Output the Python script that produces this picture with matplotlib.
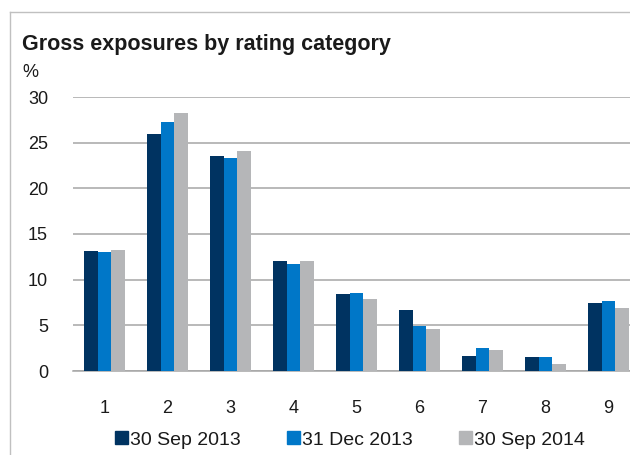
import matplotlib
matplotlib.use("Agg")
import matplotlib.pyplot as plt
import matplotlib.patches as mpatches
from matplotlib.lines import Line2D
import numpy as np

# ---------------------------------------------------------------------------
# Data
# ---------------------------------------------------------------------------
categories = ["1", "2", "3", "4", "5", "6", "7", "8", "9"]
series_names = ["30 Sep 2013", "31 Dec 2013", "30 Sep 2014"]
sep_2013 = [13.1, 26.0, 23.5, 12.0, 8.4, 6.7, 1.6, 1.5, 7.4]
dec_2013 = [13.0, 27.3, 23.3, 11.7, 8.5, 4.9, 2.5, 1.5, 7.7]
sep_2014 = [13.3, 28.3, 24.1, 12.0, 7.9, 4.6, 2.3, 0.8, 6.9]
y_ticks = [0, 5, 10, 15, 20, 25, 30]

# ---------------------------------------------------------------------------
# Theme
# ---------------------------------------------------------------------------
NAVY = "#003361"
BLUE = "#0077c8"
GREY = "#b5b6b8"
GRID = "#a6a6a6"
FRAME = "#c0c0c0"
TEXT = "#1a1a1a"

plt.rcParams["font.family"] = ["Liberation Sans", "DejaVu Sans"]

W, H = 630, 455
fig = plt.figure(figsize=(W / 100, H / 100), dpi=100)
fig.patch.set_facecolor("white")

# outer frame (left + top edges visible, rest cropped)
fig.add_artist(Line2D([10 / W, 10 / W], [0, 1 - 12 / H], color=FRAME, lw=1.0))
fig.add_artist(Line2D([10 / W, 1], [1 - 12 / H, 1 - 12 / H], color=FRAME, lw=1.0))

# axes extends a little past the right edge, as in the cropped source
ax_left, ax_right = 73, 640
ax_bottom, ax_top = 371, 97
ax = fig.add_axes([ax_left / W, 1 - ax_bottom / H,
                   (ax_right - ax_left) / W, (ax_bottom - ax_top) / H])
ax.set_facecolor("none")

x = np.arange(1, len(categories) + 1)
width = 0.222
for vals, color, off in zip([sep_2013, dec_2013, sep_2014],
                            [NAVY, BLUE, GREY], [-1, 0, 1]):
    ax.bar(x + off * width, vals, width, color=color, linewidth=0, zorder=3)

ax.set_xlim(0.5, len(categories) + 0.5)
ax.set_ylim(0, 30)
ax.set_yticks(y_ticks)
ax.set_yticklabels([str(v) for v in y_ticks])
ax.set_xticks(x)
ax.set_xticklabels(categories)
ax.yaxis.grid(True, color=GRID, linewidth=1.1, zorder=0)
ax.set_axisbelow(True)
for side in ["top", "right", "left"]:
    ax.spines[side].set_visible(False)
ax.spines["bottom"].set_color(GRID)
ax.spines["bottom"].set_linewidth(1.1)
ax.tick_params(axis="both", length=0, labelsize=13, colors=TEXT)
ax.tick_params(axis="y", pad=18)
ax.tick_params(axis="x", pad=21)

fig.text(22 / W, 1 - 50 / H, "Gross exposures by rating category",
         fontsize=15.5, fontweight="bold", color=TEXT,
         ha="left", va="baseline")
fig.text(22 / W, 1 - 77 / H, "%", fontsize=13, color=TEXT,
         ha="left", va="baseline")

handles = [mpatches.Patch(color=c, label=n)
           for c, n in zip([NAVY, BLUE, GREY], series_names)]
fig.legend(handles=handles, loc="center", ncol=3, frameon=False,
           bbox_to_anchor=(350 / W, 1 - 440 / H), fontsize=14,
           handlelength=0.65, handleheight=0.65, handletextpad=0.1,
           columnspacing=2.4, labelcolor=TEXT)

fig.savefig("out.png", dpi=100, facecolor="white")
